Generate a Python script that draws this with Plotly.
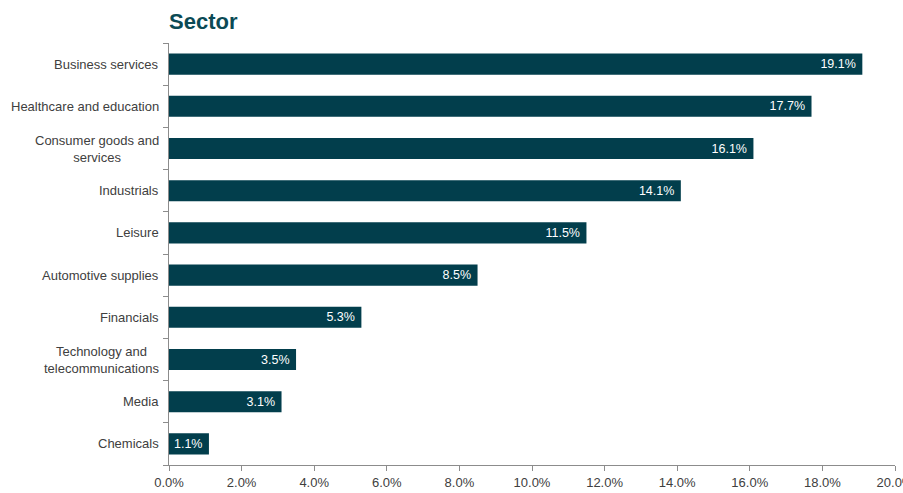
import plotly.graph_objects as go

categories = [
    "Business services",
    "Healthcare and education",
    "Consumer goods and<br>services",
    "Industrials",
    "Leisure",
    "Automotive supplies",
    "Financials",
    "Technology and<br>telecommunications",
    "Media",
    "Chemicals",
]
shares = [19.1, 17.7, 16.1, 14.1, 11.5, 8.5, 5.3, 3.5, 3.1, 1.1]
x_ticks = [0, 2, 4, 6, 8, 10, 12, 14, 16, 18, 20]

bar_color = "#023E4C"
axis_color = "#8C8C8C"
text_color = "#404040"
font_family = "Liberation Sans, Arial"

fig = go.Figure(
    go.Bar(
        x=shares,
        y=categories,
        orientation="h",
        marker=dict(color=bar_color, line=dict(width=0)),
        text=[f"{v:.1f}%\u00a0" for v in shares],
        textposition="inside",
        insidetextanchor="end",
        textfont=dict(color="white", size=12.5, family=font_family),
        textangle=0,
        hoverinfo="skip",
    )
)

# Category labels, centred line-by-line
for cat in categories:
    fig.add_annotation(
        x=0, xref="paper", y=cat, yref="y",
        text=cat, showarrow=False,
        xanchor="right", xshift=-8, align="center",
        font=dict(size=13, color=text_color, family=font_family),
    )

fig.update_layout(
    width=903, height=493,
    margin=dict(l=169, r=8, t=43, b=28, autoexpand=False),
    paper_bgcolor="white", plot_bgcolor="white",
    showlegend=False,
    bargap=0.5,
    uniformtext=dict(minsize=10, mode="show"),
    title=dict(
        text="<b>Sector</b>",
        x=0, xanchor="left", xref="paper",
        y=1 - 21 / 493, yanchor="middle",
        font=dict(size=22, color="#0B4A55", family=font_family),
    ),
    font=dict(family=font_family, color=text_color, size=13),
)

fig.update_xaxes(
    range=[0, 20],
    tickvals=x_ticks,
    ticktext=[f"{t:.1f}%" for t in x_ticks],
    showgrid=False, zeroline=False,
    showline=True, linecolor=axis_color, linewidth=1,
    ticks="outside", ticklen=5, tickcolor=axis_color,
    ticklabelstandoff=0,
    ticklabeloverflow="allow",
    tickfont=dict(size=13, color=text_color),
    automargin=False,
    fixedrange=True,
)
fig.update_yaxes(
    categoryorder="array", categoryarray=categories[::-1],
    showticklabels=False,
    showgrid=False, zeroline=False,
    showline=True, linecolor=axis_color, linewidth=1,
    ticks="outside", ticklen=5, tickcolor=axis_color,
    tickson="boundaries",
    automargin=False,
    fixedrange=True,
)

fig.write_html("out.html")
